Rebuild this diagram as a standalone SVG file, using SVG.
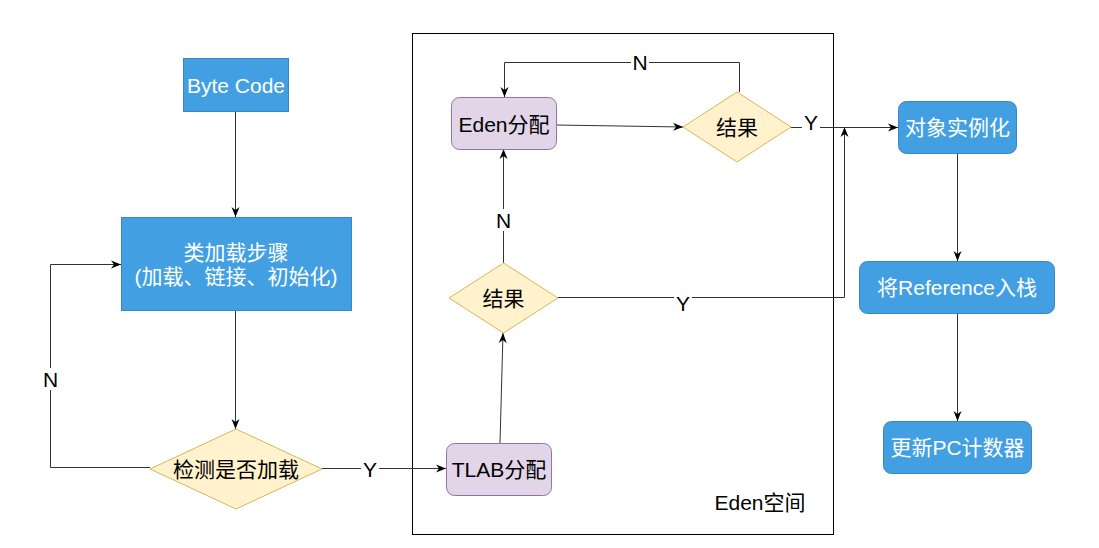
<svg xmlns="http://www.w3.org/2000/svg" width="1099" height="548" viewBox="0 0 1099 548">
<style>
text{font-family:"Liberation Sans","Noto Sans CJK SC",sans-serif;font-size:21px;dominant-baseline:central;text-anchor:middle}
.blue{fill:#42A0E2;stroke:#3A86C4;stroke-width:1}
.purple{fill:#E1D5E7;stroke:#9673A6;stroke-width:1}
.yellow{fill:#FFF2CC;stroke:#D6B656;stroke-width:1}
.wt{fill:#FFFFFF}
.bt{fill:#000000}
.ln{fill:none;stroke:#333333;stroke-width:1}
.lbg{fill:#FFFFFF}
</style>
<defs>
<marker id="arr" viewBox="0 0 10 10" refX="10" refY="5" markerWidth="10" markerHeight="10" orient="auto" markerUnits="userSpaceOnUse">
<path d="M0,1 L10,5 L0,9 L3,5 Z" fill="#000000"/>
</marker>
</defs>
<rect width="1099" height="548" fill="#FFFFFF"/>
<g id="eden-container">
<rect x="412.5" y="33.5" width="421" height="501" fill="none" stroke="#000000" stroke-width="1"/>
<text x="760" y="502" class="bt">Eden空间</text>
</g>
<g id="connectors">
<path class="ln" d="M235.5,111 V217" marker-end="url(#arr)"/>
<path class="ln" d="M235.5,311 V429" marker-end="url(#arr)"/>
<path class="ln" d="M150,467.5 H50.5 V264.5 H121" marker-end="url(#arr)"/>
<rect class="lbg" x="42" y="368" width="17" height="22"/>
<text x="50.5" y="379" class="bt">N</text>
<path class="ln" d="M322,468.5 H446" marker-end="url(#arr)"/>
<rect class="lbg" x="361" y="458" width="18" height="22"/>
<text x="370" y="469" class="bt">Y</text>
<path class="ln" d="M500,443 L503,333" marker-end="url(#arr)"/>
<path class="ln" d="M503.5,263 V149" marker-end="url(#arr)"/>
<rect class="lbg" x="495" y="209" width="17" height="22"/>
<text x="503.5" y="220" class="bt">N</text>
<path class="ln" d="M556,125 L683,127" marker-end="url(#arr)"/>
<path class="ln" d="M739.5,92 V62.5 H504.5 V97" marker-end="url(#arr)"/>
<rect class="lbg" x="631" y="51" width="18" height="22"/>
<text x="640" y="62" class="bt">N</text>
<path class="ln" d="M791,127.5 H898" marker-end="url(#arr)"/>
<rect class="lbg" x="802" y="111" width="18" height="22"/>
<text x="811" y="122" class="bt">Y</text>
<path class="ln" d="M558,297.5 H844.5 V127" marker-end="url(#arr)"/>
<rect class="lbg" x="674" y="292" width="18" height="22"/>
<text x="683" y="303" class="bt">Y</text>
<path class="ln" d="M957.5,153 V261" marker-end="url(#arr)"/>
<path class="ln" d="M957.5,313 V421" marker-end="url(#arr)"/>
</g>
<g id="byte-code">
<rect class="blue" x="183.5" y="58.5" width="105" height="53"/>
<text x="236" y="85" class="wt">Byte Code</text>
</g>
<g id="class-loading">
<rect class="blue" x="121.5" y="217.5" width="230" height="93"/>
<text x="236" y="252" class="wt">类加载步骤</text>
<text x="236" y="276" class="wt">(加载、链接、初始化)</text>
</g>
<g id="check-loaded">
<path class="yellow" d="M236,429 L322,469 L236,509 L150,469 Z"/>
<text x="236" y="469" class="bt">检测是否加载</text>
</g>
<g id="tlab">
<rect class="purple" x="446.5" y="443.5" width="105" height="52" rx="8"/>
<text x="499" y="469" class="bt">TLAB分配</text>
</g>
<g id="result-tlab">
<path class="yellow" d="M503.5,263 L558,298 L503.5,333 L449,298 Z"/>
<text x="503.5" y="298" class="bt">结果</text>
</g>
<g id="eden-alloc">
<rect class="purple" x="451.5" y="97.5" width="105" height="52" rx="8"/>
<text x="504" y="124" class="bt">Eden分配</text>
</g>
<g id="result-eden">
<path class="yellow" d="M737,92 L791,127 L737,162 L683,127 Z"/>
<text x="737" y="127" class="bt">结果</text>
</g>
<g id="instantiate">
<rect class="blue" x="898.5" y="101.5" width="118" height="52" rx="8"/>
<text x="957.5" y="127" class="wt">对象实例化</text>
</g>
<g id="push-ref">
<rect class="blue" x="859.5" y="261.5" width="195" height="52" rx="8"/>
<text x="957" y="287" class="wt">将Reference入栈</text>
</g>
<g id="update-pc">
<rect class="blue" x="883.5" y="421.5" width="148" height="52" rx="8"/>
<text x="957.5" y="447" class="wt">更新PC计数器</text>
</g>
</svg>
